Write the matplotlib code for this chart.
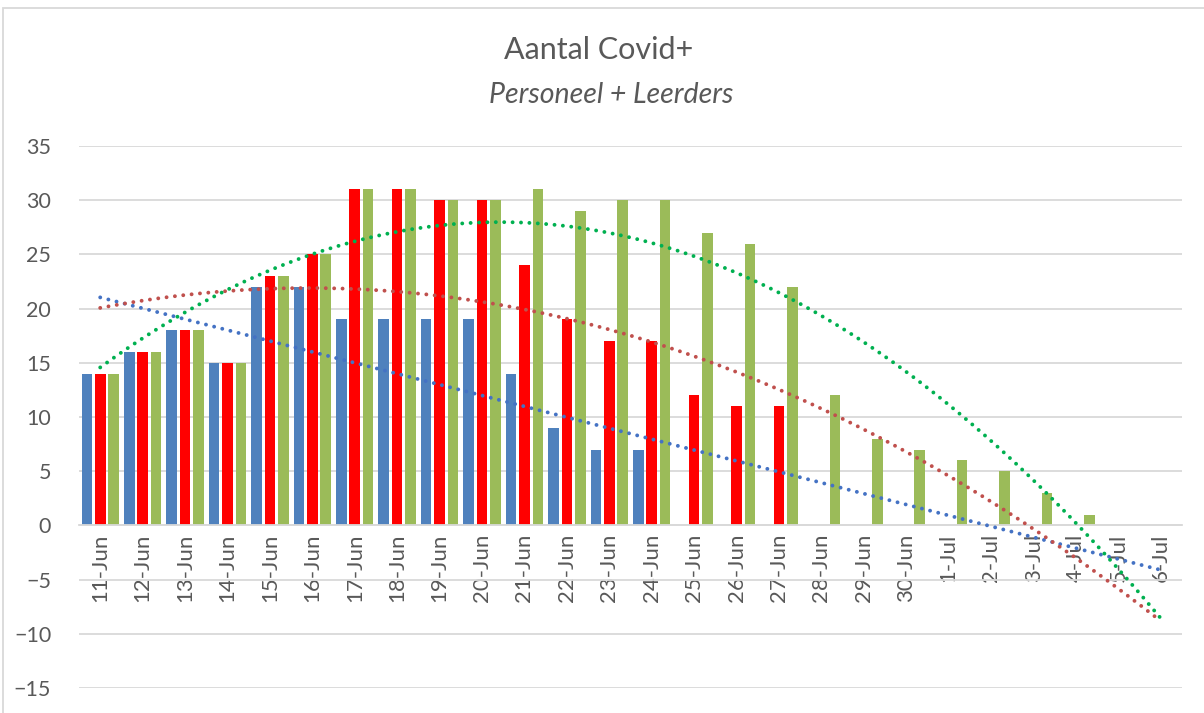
import numpy as np
from matplotlib import pyplot as plt
from matplotlib.patches import Rectangle

dates = ['11-Jun', '12-Jun', '13-Jun', '14-Jun', '15-Jun', '16-Jun', '17-Jun',
         '18-Jun', '19-Jun', '20-Jun', '21-Jun', '22-Jun', '23-Jun', '24-Jun',
         '25-Jun', '26-Jun', '27-Jun', '28-Jun', '29-Jun', '30-Jun',
         '1-Jul', '2-Jul', '3-Jul', '4-Jul', '5-Jul', '6-Jul']
blue = [14, 16, 18, 15, 22, 22, 19, 19, 19, 19, 14, 9, 7, 7,
        0, 0, 0, 0, 0, 0, 0, 0, 0, 0, 0, 0]
red = [14, 16, 18, 15, 23, 25, 31, 31, 30, 30, 24, 19, 17, 17, 12, 11, 11,
       0, 0, 0, 0, 0, 0, 0, 0, 0]
green = [14, 16, 18, 15, 23, 25, 31, 31, 30, 30, 31, 29, 30, 30, 27, 26, 22,
         12, 8, 7, 6, 5, 3, 1, 0, 0]

plt.rcParams['font.family'] = ['Lato', 'DejaVu Sans']
fig = plt.figure(figsize=(12.04, 7.13), dpi=100)
ax = fig.add_axes([79/1204, 1-688/713, (1182-79)/1204, (688-146)/713])

x = np.arange(len(dates))
w = 0.25
off = 0.316
ax.bar(x - off, blue, w, color='#4F81BD', zorder=2)
ax.bar(x, red, w, color='#FF0000', zorder=2)
ax.bar(x + off, green, w, color='#9BBB59', zorder=2)

# trendlines (fitted like Excel does)
xs = np.linspace(0, len(dates) - 1, 300)
for vals, deg, col in [(blue, 1, '#4472C4'), (red, 2, '#C0504D'), (green, 2, '#00B050')]:
    p = np.polyfit(x, vals, deg)
    ax.plot(xs, np.polyval(p, xs), color=col, linewidth=2.8,
            linestyle=(0, (0.01, 2.15)), dash_capstyle='round', zorder=3)

ax.set_xlim(-0.5, len(dates) - 0.5)
ax.set_ylim(-15, 35)
ax.set_yticks(range(-15, 36, 5))
ax.grid(axis='y', color='#D9D9D9', linewidth=1.3, zorder=0)
ax.set_axisbelow(True)
for s in ['top', 'right', 'left']:
    ax.spines[s].set_visible(False)
ax.spines['bottom'].set_position(('data', 0))
ax.spines['bottom'].set_color('#D9D9D9')
ax.spines['bottom'].set_linewidth(1.3)
ax.set_xticks(x)
ax.set_xticklabels(dates, rotation=90)
ax.tick_params(axis='x', length=0, pad=6, labelsize=16, labelcolor='#595959')
ax.tick_params(axis='y', length=0, pad=20, labelsize=15.5, labelcolor='#595959')

fig.text(0.497, 1-50/713, 'Aantal Covid+', ha='center', va='center',
         fontsize=22, color='#595959')
fig.text(0.508, 1-95/713, 'Personeel + Leerders', ha='center', va='center',
         fontsize=20.5, style='italic', color='#595959')

fig.patches.append(Rectangle((3/1204, -0.05), 1.1, 1-8/713+0.05, transform=fig.transFigure,
                             fill=False, edgecolor='#D9D9D9', linewidth=1.3))

plt.savefig('out.png', dpi=100)
